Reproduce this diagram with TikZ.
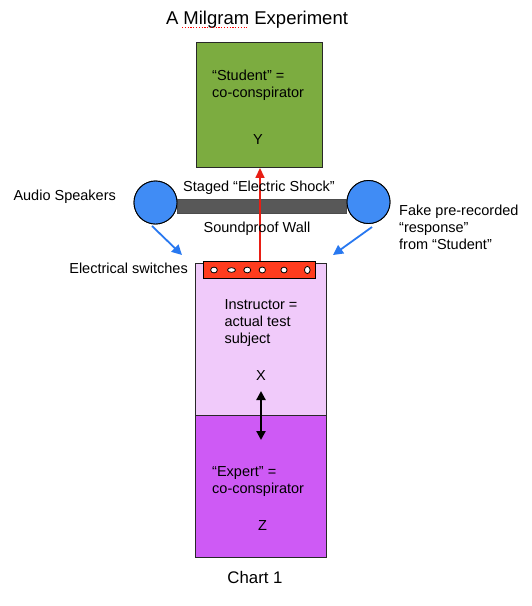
\documentclass[tikz,border=0pt]{standalone}
\usepackage{fontspec}
\setmainfont{Liberation Sans}
\usetikzlibrary{arrows.meta}
\definecolor{boxgreen}{RGB}{124,172,64}
\definecolor{boxpink}{RGB}{240,202,250}
\definecolor{boxpurple}{RGB}{206,90,245}
\definecolor{spkblue}{RGB}{64,140,245}
\definecolor{wallgray}{RGB}{88,88,88}
\definecolor{panelred}{RGB}{255,60,30}
\definecolor{arrblue}{RGB}{40,120,240}
\definecolor{arrred}{RGB}{232,30,20}
\definecolor{edge}{RGB}{40,40,40}
\begin{document}
\begin{tikzpicture}[x=1pt,y=-1pt,
  lbl/.style={inner sep=0pt,font=\fontsize{14.5}{17}\selectfont,align=left},
  roombox/.style={draw=edge,line width=1pt,inner sep=0pt},
  speaker/.style={circle,draw=black,line width=0.9pt,fill=spkblue,minimum size=43pt,inner sep=0pt},
  bluearrow/.style={draw=arrblue,line width=1.8pt,-{Triangle[length=10pt,width=10pt]}},
  redarrow/.style={draw=arrred,line width=1.6pt,-{Triangle[length=10pt,width=9pt]}},
  blackarrow/.style={draw=black,line width=2.2pt,{Triangle[length=9pt,width=9pt]}-{Triangle[length=9pt,width=9pt]}},
  switchdot/.style={draw=black,fill=white,line width=0.8pt}
]
\useasboundingbox (0,0) rectangle (531,606);
\fill[white] (0,0) rectangle (531,606);

% title
\node[lbl,anchor=base,font=\fontsize{18.5}{22}\selectfont] (title) at (257,24) {A Milgram Experiment};
\draw[red,line width=1.2pt,dash pattern=on 1.2pt off 1.6pt] (182,27.5) -- (247,27.5);

% boxes
\node[roombox,fill=boxgreen,minimum width=126pt,minimum height=124.5pt] (student) at (259,105.2) {};
\node[roombox,fill=boxpink,minimum width=131pt,minimum height=152pt] (instr) at (260.5,339) {};
\node[roombox,fill=boxpurple,minimum width=131pt,minimum height=142pt] (expert) at (260.5,486) {};

% wall and speakers
\node[speaker] (spkL) at (155.5,202.5) {};
\node[speaker] (spkR) at (368.5,202) {};
\fill[wallgray] (spkL.east |- 0,199) rectangle (spkR.west |- 0,213.5);
\draw[line width=0.5pt,black!70] (spkL.east |- 0,199) rectangle (spkR.west |- 0,213.5);
\node[speaker] at (spkL) {};
\node[speaker] at (spkR) {};

% switch panel
\node[draw=black,line width=1pt,fill=panelred,minimum width=112pt,minimum height=17pt,inner sep=0pt] (panel) at (259,269.5) {};
\foreach \x/\w/\h in {214/3.4/2.9, 231.5/4.0/2.3, 247.3/3.5/2.9, 262.3/3.2/3.0, 284/3.1/2.9, 307.3/2.8/3.6}
  \draw[switchdot] (\x,270) ellipse ({\w pt} and {\h pt});

% arrows
\draw[redarrow] (panel.north -| 260,0) -- (student.south -| 260,0);
\coordinate (la) at (152,226);
\coordinate (lb) at (182,255);
\coordinate (ra) at (372,227);
\coordinate (rb) at (333,255);
\draw[bluearrow] (la) -- (lb);
\draw[bluearrow] (ra) -- (rb);
\coordinate (xa) at (261,391);
\coordinate (xb) at (261,440);
\draw[blackarrow] (xa) -- (xb);

% labels (base anchor = baseline of last line)
\node[lbl,anchor=base west] (tstudent) at (212,97) {“Student” =\\co-conspirator};
\node[lbl,anchor=base] (ty) at (258,144) {Y};
\node[lbl,anchor=base west] (tinstr) at (224.3,343) {Instructor =\\actual test\\subject};
\node[lbl,anchor=base] (tx) at (261,380) {X};
\node[lbl,anchor=base west] (texpert) at (212,493) {“Expert” =\\co-conspirator};
\node[lbl,anchor=base] (tz) at (262.5,530) {Z};
\node[lbl,anchor=base,font=\fontsize{16.8}{20}\selectfont] (tchart) at (255,583) {Chart 1};
\node[lbl,anchor=base west] (taudio) at (13.3,200) {Audio Speakers};
\node[lbl,anchor=base east] (tswitch) at (188,273) {Electrical switches};
\node[lbl,anchor=base west] (tfake) at (399,249) {Fake pre-recorded\\“response”\\from “Student”};
\node[lbl,anchor=base] (tshock) at (259,191) {Staged “Electric Shock”};
\node[lbl,anchor=base] (twall) at (257,232) {Soundproof Wall};
\end{tikzpicture}
\end{document}
